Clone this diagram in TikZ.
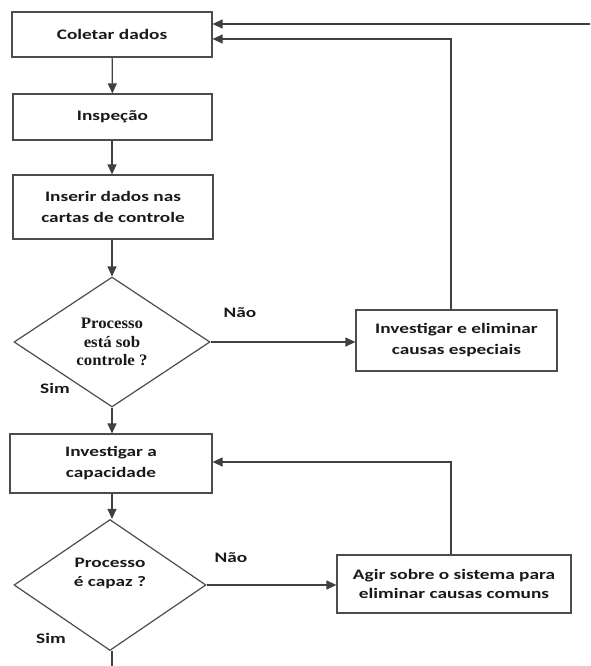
\documentclass[tikz,border=0pt]{standalone}
\usepackage{fontspec}
\usetikzlibrary{arrows.meta,shapes.geometric}
\newfontfamily\boxfont{Carlito}[FakeStretch=1.33]
\newfontfamily\qfont{Liberation Serif}[FakeStretch=1.05]
\begin{document}
\begin{tikzpicture}[x=1pt,y=-1pt,
  line width=1.2pt,
  stepbox/.style={draw=black!70, fill=white, rectangle, inner sep=0pt, align=center,
    font=\boxfont\bfseries\fontsize{14.5}{21}\selectfont, text=black!90},
  decision/.style={draw=black!70, diamond, inner sep=0pt, align=center,
    text=black!90},
  lbl/.style={font=\boxfont\bfseries\fontsize{14.5}{18}\selectfont, text=black!90, inner sep=0pt},
  flow/.style={draw=black!75, -{Triangle[length=10pt,width=9pt]}},
  plain/.style={draw=black!75}
]
\useasboundingbox (0,0) rectangle (590,666);

% main column
\node[stepbox, minimum width=200pt, minimum height=45pt] (collect) at (112,34.5) {Coletar dados};
\node[stepbox, minimum width=199pt, minimum height=46pt] (inspect) at (112.5,117) {Inspeção};
\node[stepbox, minimum width=200pt, minimum height=64pt] (insert) at (113,207)
  {Inserir dados nas\\cartas de controle};
\node[decision, minimum width=196pt, minimum height=130pt,
  font=\qfont\bfseries\fontsize{16}{18.5}\selectfont] (ctrl) at (112,342)
  {Processo\\está sob\\controle ?};
\node[stepbox, minimum width=202pt, minimum height=59pt] (capab) at (111,463.5)
  {Investigar a\\capacidade};
\node[decision, minimum width=192pt, minimum height=131pt,
  font=\boxfont\bfseries\fontsize{14.5}{19}\selectfont] (able) at (110,585)
  {Processo\\é capaz ?\\[6pt]};

% side column
\node[stepbox, minimum width=201pt, minimum height=61pt] (special) at (456.5,340.5)
  {Investigar e eliminar\\causas especiais};
\node[stepbox, minimum width=234pt, minimum height=58pt,
  font=\boxfont\bfseries\fontsize{14.5}{19}\selectfont] (common) at (454,584)
  {Agir sobre o sistema para\\eliminar causas comuns};

% loop points
\coordinate (entry) at (590,24);
\coordinate (loopA) at (451,39);
\coordinate (loopB) at (451,462);
\coordinate (exit) at (112,666);

% vertical flow
\draw[flow] (collect) -- (inspect);
\draw[flow] (inspect.south -| collect) -- (insert.north -| collect);
\draw[flow] (insert.south -| ctrl) -- (ctrl.north);
\draw[flow] (ctrl.south) -- (capab.north -| ctrl);
\draw[flow] (capab.south -| ctrl) -- (able.north -| ctrl);
\draw[plain] (able.south -| ctrl) -- (exit);

% branches
\draw[flow] (ctrl.east) -- (ctrl.east -| special.west);
\draw[flow] (able.east) -- (able.east -| common.west);

% feedback loops
\draw[flow] (entry) -- (entry -| collect.east);
\draw[flow] (loopA |- special.north) -- (loopA) -- (loopA -| collect.east);
\draw[flow] (loopB |- common.north) -- (loopB) -- (loopB -| capab.east);

% branch labels
\node[lbl] (no1) at (240,313) {Não};
\node[lbl] (yes1) at (55,388) {Sim};
\node[lbl] (no2) at (231,558) {Não};
\node[lbl] (yes2) at (51,638) {Sim};
\end{tikzpicture}
\end{document}
